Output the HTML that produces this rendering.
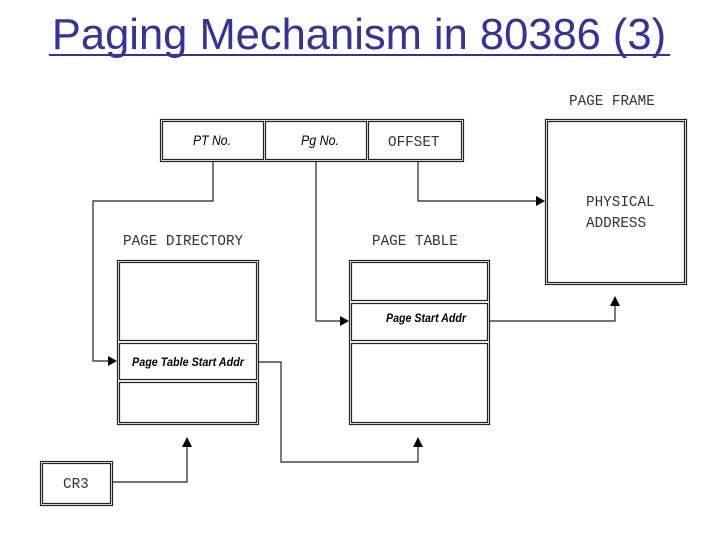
<!DOCTYPE html>
<html><head><meta charset="utf-8"><style>
html,body{margin:0;padding:0;background:#fff;width:720px;height:540px;overflow:hidden}
</style></head><body>
<svg width="720" height="540" viewBox="0 0 720 540" xmlns="http://www.w3.org/2000/svg">
<text x="359" y="49" text-anchor="middle" font-family="Liberation Sans, sans-serif" font-size="43.5" fill="#333399">Paging Mechanism in 80386 (3)</text>
<line x1="49" y1="55" x2="670" y2="55" stroke="#333399" stroke-width="2"/>
<g fill="none" stroke="#222" stroke-width="1.2">
<rect x="160.5" y="119.5" width="303" height="42"/>
<rect x="162.5" y="121.5" width="101" height="38"/>
<rect x="265.5" y="121.5" width="101" height="38"/>
<rect x="368.5" y="121.5" width="93" height="38"/>
<rect x="545.5" y="119.5" width="141" height="165"/>
<rect x="547.5" y="121.5" width="137" height="161"/>
<rect x="117.5" y="260.5" width="141" height="164"/>
<rect x="119.5" y="262.5" width="137" height="78"/>
<rect x="119.5" y="343.5" width="137" height="36"/>
<rect x="119.5" y="382.5" width="137" height="40"/>
<rect x="349.5" y="260.5" width="140" height="164"/>
<rect x="351.5" y="262.5" width="136" height="38"/>
<rect x="351.5" y="303.5" width="136" height="37"/>
<rect x="351.5" y="343.5" width="136" height="79"/>
<rect x="40.5" y="461.5" width="72" height="44"/>
<rect x="42.5" y="463.5" width="68" height="40"/>
<polyline points="213,162 213,201 93,201 93,361 110,361"/>
<polyline points="316,162 316,321 342,321"/>
<polyline points="418,162 418,201 537,201"/>
<polyline points="490,321 615,321 615,305"/>
<polyline points="259,362 281,362 281,462 418,462 418,446"/>
<polyline points="113,482 187,482 187,446"/>
</g>
<g fill="#000">
<polygon points="117,361 108,356 108,366"/>
<polygon points="349,321 340,316 340,326"/>
<polygon points="545,201 536,196 536,206"/>
<polygon points="615,296 610,306 620,306"/>
<polygon points="418,437 413,447 423,447"/>
<polygon points="187,437 182,447 192,447"/>
</g>
<g font-family="Liberation Mono, monospace" font-size="14.3" fill="#333">
<text x="569" y="105">PAGE FRAME</text>
<text x="586" y="206">PHYSICAL</text>
<text x="586" y="227">ADDRESS</text>
<text x="123" y="245">PAGE DIRECTORY</text>
<text x="372" y="245">PAGE TABLE</text>
<text x="388" y="146">OFFSET</text>
<text x="63" y="488">CR3</text>
</g>
<g font-family="Liberation Sans, sans-serif" font-style="italic" fill="#000">
<text x="212" y="145" font-size="14" text-anchor="middle" textLength="38" lengthAdjust="spacingAndGlyphs">PT No.</text>
<text x="320" y="145" font-size="14" text-anchor="middle" textLength="38" lengthAdjust="spacingAndGlyphs">Pg No.</text>
<text x="188" y="366" font-size="11.5" font-weight="bold" text-anchor="middle" textLength="112" lengthAdjust="spacingAndGlyphs">Page Table Start Addr</text>
<text x="426" y="322" font-size="11.5" font-weight="bold" text-anchor="middle" textLength="80" lengthAdjust="spacingAndGlyphs">Page Start Addr</text>
</g>
</svg>
</body></html>
